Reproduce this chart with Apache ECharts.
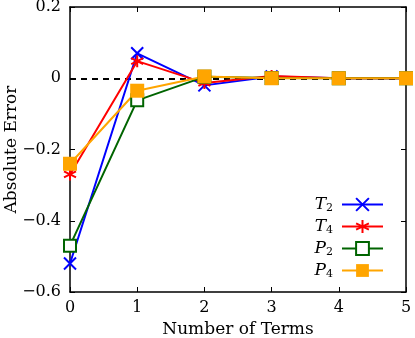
<!DOCTYPE html>
<html>
<head>
<meta charset="utf-8">
<script src="https://cdn.jsdelivr.net/npm/echarts@6/dist/echarts.min.js"></script>
<style>
html, body { margin: 0; padding: 0; background: #fff; }
#main { width: 415px; height: 338px; }
</style>
</head>
<body>
<div id="main"></div>
<script>
// data
var terms = [0, 1, 2, 3, 4, 5];
var t2 = [-0.52, 0.07, -0.02, 0.005, 0, 0];
var t4 = [-0.27, 0.048, -0.013, 0.006, 0, 0];
var p2 = [-0.47, -0.062, 0.004, 0.001, 0, 0];
var p4 = [-0.24, -0.035, 0.005, 0, 0, 0];
var yTicks = [-0.6, -0.4, -0.2, 0, 0.2];

var font = '"DejaVu Serif", "Liberation Serif", serif';

function pairs(ys) {
	var out = [];
	for (var i = 0; i < terms.length; i++) {
		out.push([terms[i], ys[i]]);
	}
	return out;
}

var crossPath = 'path://M0,0L10,10M10,0L0,10';
var starPath = 'path://M5,0L5,10M0.67,2.5L9.33,7.5M0.67,7.5L9.33,2.5';

var dom = document.getElementById('main');
var chart = echarts.init(dom);

var axisLine = { show: true, onZero: false, lineStyle: { color: '#000', width: 1.5 } };
var tickIn = { show: true, inside: true, length: 5, lineStyle: { color: '#000', width: 1 } };

var option = {
	animation: false,
	backgroundColor: '#fff',
	textStyle: { fontFamily: font },
	grid: {
		left: 70,
		right: 9,
		top: 7,
		bottom: 46,
		containLabel: false,
		outerBoundsMode: 'none',
		show: false
	},
	legend: {
		orient: 'vertical',
		right: 26,
		top: 191,
		align: 'right',
		itemWidth: 41,
		itemHeight: 16,
		itemGap: 4,
		data: ['T2', 'T4', 'P2', 'P4'],
		formatter: function(name) {
			return '{i|' + name.charAt(0) + '}{s|' + name.charAt(1) + '}';
		},
		textStyle: {
			fontFamily: font,
			padding: [0, 4, 0, 0],
			rich: {
				i: { fontFamily: font, fontStyle: 'italic', fontSize: 17, color: '#000' },
				s: { fontFamily: font, fontSize: 11, color: '#000', verticalAlign: 'bottom', padding: [8, 0, 0, 0] }
			}
		}
	},
	xAxis: [
		{
			type: 'value',
			min: 0,
			max: 5,
			interval: 1,
			name: 'Number of Terms',
			nameLocation: 'middle',
			nameGap: 29,
			nameMoveOverlap: false,
			nameTextStyle: { fontFamily: font, fontSize: 17, color: '#000' },
			axisLine: axisLine,
			axisTick: tickIn,
			splitLine: { show: false },
			axisLabel: { fontFamily: font, fontSize: 16, color: '#000', margin: 8 }
		},
		{
			type: 'value',
			position: 'top',
			min: 0,
			max: 5,
			interval: 1,
			axisLine: axisLine,
			axisTick: tickIn,
			splitLine: { show: false },
			axisLabel: { show: false }
		}
	],
	yAxis: [
		{
			type: 'value',
			min: yTicks[0],
			max: yTicks[yTicks.length - 1],
			interval: 0.2,
			name: 'Absolute Error',
			nameLocation: 'middle',
			nameGap: 50,
			nameMoveOverlap: false,
			nameTextStyle: { fontFamily: font, fontSize: 17, color: '#000' },
			axisLine: axisLine,
			axisTick: tickIn,
			splitLine: { show: false },
			axisLabel: {
				fontFamily: font,
				fontSize: 16,
				color: '#000',
				margin: 9,
				formatter: function(v) {
					var r = Math.round(v * 10) / 10;
					if (r === 0) return '0';
					return String(r).replace('-', '\u2212');
				}
			}
		},
		{
			type: 'value',
			position: 'right',
			min: yTicks[0],
			max: yTicks[yTicks.length - 1],
			interval: 0.2,
			axisLine: axisLine,
			axisTick: tickIn,
			splitLine: { show: false },
			axisLabel: { show: false }
		}
	],
	series: [
		{
			name: 'T2',
			type: 'line',
			data: pairs(t2),
			symbol: crossPath,
			symbolSize: 12,
			color: '#0000ff',
			lineStyle: { color: '#0000ff', width: 2 },
			itemStyle: { color: '#0000ff', borderColor: '#0000ff', borderWidth: 2 },
			markLine: {
				silent: true,
				symbol: ['none', 'none'],
				label: { show: false },
				lineStyle: { color: '#000', type: [6, 5], width: 2 },
				data: [{ yAxis: 0 }],
				z: 1
			}
		},
		{
			name: 'T4',
			type: 'line',
			data: pairs(t4),
			symbol: starPath,
			symbolSize: 12,
			color: '#ff0000',
			lineStyle: { color: '#ff0000', width: 2 },
			itemStyle: { color: '#ff0000', borderColor: '#ff0000', borderWidth: 2 }
		},
		{
			name: 'P2',
			type: 'line',
			data: pairs(p2),
			symbol: 'rect',
			symbolSize: 12,
			color: '#006400',
			lineStyle: { color: '#006400', width: 2 },
			itemStyle: { color: '#ffffff', borderColor: '#006400', borderWidth: 2 }
		},
		{
			name: 'P4',
			type: 'line',
			data: pairs(p4),
			symbol: 'rect',
			symbolSize: 14,
			color: '#ffa500',
			lineStyle: { color: '#ffa500', width: 2 },
			itemStyle: { color: '#ffa500', borderColor: '#ffa500', borderWidth: 0 }
		}
	]
};

chart.setOption(option);
</script>
</body>
</html>
